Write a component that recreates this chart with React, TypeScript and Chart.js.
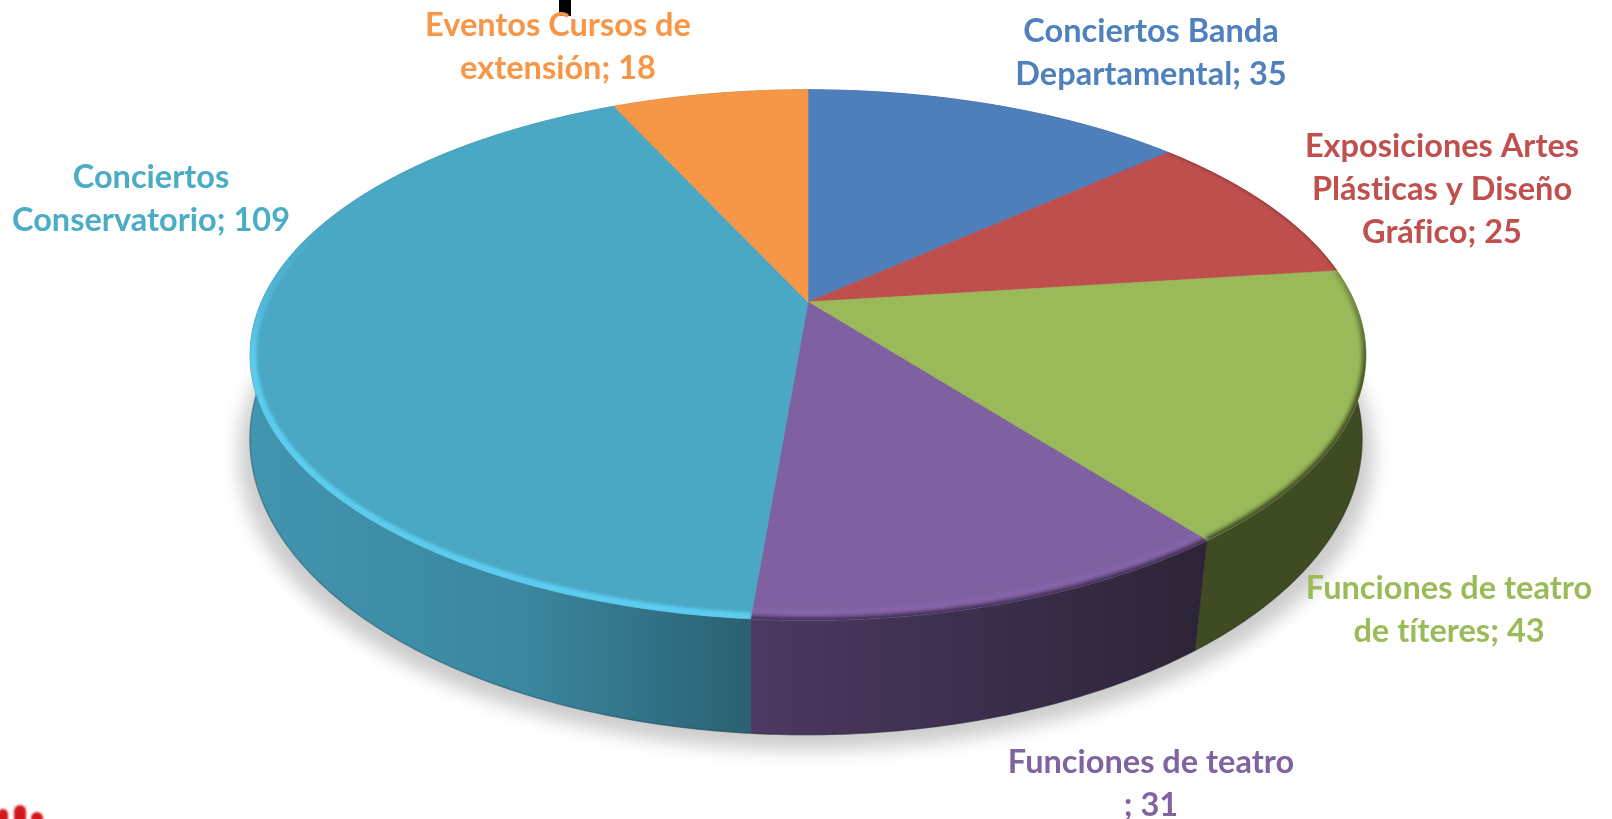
import React, { useEffect, useRef } from "react";
import { Chart, registerables } from "chart.js";

Chart.register(...registerables);

const categoryLines: string[][] = [
  ["Conciertos Banda", "Departamental"],
  ["Exposiciones Artes", "Plásticas y Diseño", "Gráfico"],
  ["Funciones de teatro", "de títeres"],
  ["Funciones de teatro", ""],
  ["Conciertos", "Conservatorio"],
  ["Eventos Cursos de", "extensión"],
];
const values = [35, 25, 43, 31, 109, 18];
const faceColors = ["#4e7fbb", "#be4f4d", "#9aba5a", "#7f60a0", "#4aa8c5", "#f59746"];
const labelColors = ["#4f81bd", "#c0504d", "#9bbb59", "#8064a2", "#4bacc6", "#f79646"];
const sideStops = [
  ["#3a5f8c", "#3a5f8c"],
  ["#6b2c2a", "#6b2c2a"],
  ["#3f4b22", "#3f4b22"],
  ["#4b3a62", "#2e2438"],
  ["#4295af", "#2a6171"],
  ["#a8652e", "#a8652e"],
];
const labelCenters = [
  [1151, 32],
  [1442, 147],
  [1449, 589],
  [1151, 763],
  [151, 178],
  [558, 26],
];

type Plane = { x: number; y: number; a: number; b: number; p: number };
const TOP: Plane = { x: 808, y: 302, a: 546.6, b: 254.7, p: 0.2 };
const BOTTOM: Plane = { x: 806, y: 389, a: 548, b: 287, p: 0.17 };

const project = (pl: Plane, ang: number): [number, number] => {
  const u = Math.cos(ang);
  const v = Math.sin(ang);
  const d = 1 - pl.p * v;
  return [pl.x + (pl.a * u) / d, pl.y + (pl.b * v) / d];
};

const rim = (pl: Plane, s: number, e: number): [number, number][] => {
  const n = Math.max(2, Math.ceil((e - s) / 0.01));
  const out: [number, number][] = [];
  for (let i = 0; i <= n; i++) out.push(project(pl, s + ((e - s) * i) / n));
  return out;
};

const tracePoly = (ctx: CanvasRenderingContext2D, pts: [number, number][]) => {
  pts.forEach(([x, y], i) => (i ? ctx.lineTo(x, y) : ctx.moveTo(x, y)));
};

const perspectivePie = {
  id: "perspectivePie",
  beforeDatasetDraw(chart: any) {
    const ctx: CanvasRenderingContext2D = chart.ctx;
    const arcs = chart.getDatasetMeta(0).data;

    // soft ground shadow
    ctx.save();
    ctx.filter = "blur(9px)";
    ctx.fillStyle = "rgba(0,0,0,0.2)";
    ctx.beginPath();
    tracePoly(ctx, rim({ ...BOTTOM, y: BOTTOM.y + 15, a: BOTTOM.a * 1.02 }, 0, Math.PI * 2));
    ctx.closePath();
    ctx.fill();
    ctx.restore();

    // sides
    arcs.forEach((arc: any, i: number) => {
      const top = rim(TOP, arc.startAngle, arc.endAngle);
      const botFwd = rim(BOTTOM, arc.startAngle, arc.endAngle);
      const bot = [...botFwd].reverse();
      const xs = [...top, ...bot].map((p) => p[0]);
      const front = i === 4 ? [250, 751] : i === 3 ? [751, 1193] : [Math.min(...xs), Math.max(...xs)];
      const g = ctx.createLinearGradient(front[0], 0, front[1], 0);
      g.addColorStop(0, sideStops[i][0]);
      if (i === 4) g.addColorStop(0.55, "#3b86a0");
      g.addColorStop(1, sideStops[i][1]);
      ctx.fillStyle = g;
      ctx.strokeStyle = g;
      ctx.lineWidth = 0.6;
      ctx.beginPath();
      tracePoly(ctx, [...top, ...bot]);
      ctx.closePath();
      ctx.fill();
      ctx.stroke();
      // thin darker lower edge
      ctx.strokeStyle = "rgba(20,30,40,0.25)";
      ctx.lineWidth = 1.5;
      ctx.beginPath();
      tracePoly(ctx, botFwd);
      ctx.stroke();
    });

    // faces
    arcs.forEach((arc: any, i: number) => {
      const pts = rim(TOP, arc.startAngle, arc.endAngle);
      const path = new Path2D();
      path.moveTo(TOP.x, TOP.y);
      pts.forEach(([x, y]) => path.lineTo(x, y));
      path.closePath();
      ctx.fillStyle = arc.options.backgroundColor;
      ctx.strokeStyle = arc.options.backgroundColor;
      ctx.lineWidth = 0.6;
      ctx.fill(path);
      ctx.stroke(path);

      // bevelled rim
      const stroke = (style: any, width: number, blur: number) => {
        ctx.save();
        ctx.clip(path);
        ctx.filter = `blur(${blur}px)`;
        ctx.strokeStyle = style;
        ctx.lineWidth = width;
        ctx.lineJoin = "round";
        ctx.beginPath();
        tracePoly(ctx, pts);
        ctx.stroke();
        ctx.restore();
      };
      if (i === 4) {
        const g = ctx.createLinearGradient(0, 230, 0, 360);
        g.addColorStop(0, "rgba(84,192,228,0)");
        g.addColorStop(1, "rgba(92,204,238,1)");
        stroke(g, 13, 1.8);
      } else if (i === 3) {
        stroke("rgba(140,104,175,0.7)", 20, 2.5);
        stroke("rgba(48,36,62,0.9)", 6, 2);
      } else if (i === 2) {
        const g = ctx.createLinearGradient(0, 280, 0, 380);
        g.addColorStop(0, "rgba(50,60,28,0.3)");
        g.addColorStop(1, "rgba(50,60,28,0.9)");
        stroke(g, 7, 2);
      } else if (i === 1) {
        stroke("rgba(90,40,38,0.35)", 3, 1);
      }
    });
    return false;
  },
  afterDraw(chart: any) {
    const ctx: CanvasRenderingContext2D = chart.ctx;
    ctx.save();
    // stray marks cropped into the picture
    ctx.fillStyle = "#000000";
    ctx.fillRect(559, 0, 12, 16);
    ctx.save();
    ctx.filter = "blur(1px)";
    ctx.fillStyle = "#d3171c";
    [[-2, 809, 10], [14, 805, 12], [31, 812, 12]].forEach(([x, y, w]) => {
      ctx.beginPath();
      ctx.roundRect(x, y, w, 30, w / 2);
      ctx.fill();
    });
    ctx.restore();
    ctx.font = "700 32.5px Lato";
    (ctx as any).letterSpacing = "0.01px";
    ctx.textAlign = "center";
    ctx.textBaseline = "middle";
    categoryLines.forEach((lines, i) => {
      ctx.fillStyle = labelColors[i];
      lines.forEach((line, j) => {
        const last = j === lines.length - 1;
        const text = last ? `${line}; ${values[i]}` : line;
        ctx.fillText(text, labelCenters[i][0], labelCenters[i][1] + j * 43);
      });
    });
    ctx.restore();
  },
};

export default function App() {
  const ref = useRef<HTMLCanvasElement>(null);
  useEffect(() => {
    const chart = new Chart(ref.current!, {
      type: "pie",
      data: {
        labels: categoryLines.map((l) => l.join(" ").trim()),
        datasets: [{ data: values, backgroundColor: faceColors, borderWidth: 0 }],
      },
      options: {
        animation: false,
        responsive: false,
        plugins: { legend: { display: false }, tooltip: { enabled: false } },
      },
      plugins: [perspectivePie],
    } as any);
    return () => chart.destroy();
  }, []);
  return (
    <canvas
      ref={ref}
      width={1612}
      height={819}
      style={{ position: "absolute", left: 0, top: 0, display: "block", background: "#ffffff" }}
    />
  );
}
